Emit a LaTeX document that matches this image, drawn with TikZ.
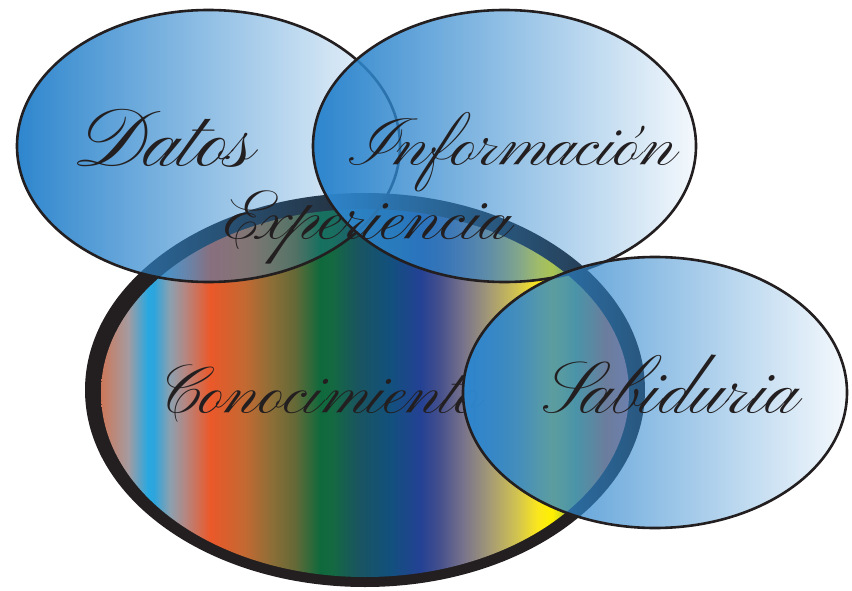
\documentclass[tikz,border=0pt]{standalone}
\usepackage[T1]{fontenc}
\usepackage{fontspec}
\usepackage{graphicx}
\usetikzlibrary{fadings}
\newcommand\pzcscr{\fontencoding{T1}\fontfamily{pzc}\fontseries{mb}\fontshape{it}\selectfont}
\IfFontExistsTF{PinyonScript-Regular.otf}{\newfontfamily\scr{PinyonScript-Regular.otf}}{%
 \IfFontExistsTF{PinyonScript.otf}{\newfontfamily\scr{PinyonScript.otf}}{%
  \IfFontExistsTF{PinyonScript-Regular.ttf}{\newfontfamily\scr{PinyonScript-Regular.ttf}}{%
   \IfFileExists{T1PinyonScript-TLF.fd}{%
     \newcommand\scr{\fontencoding{T1}\fontfamily{PinyonScript-TLF}\selectfont}}{%
     \let\scr\pzcscr}}}}
\definecolor{ink}{RGB}{35,31,32}
\definecolor{bfill}{RGB}{46,134,205}
\definecolor{r00}{RGB}{205,120,90}
\definecolor{r01}{RGB}{165,155,160}
\definecolor{r02}{RGB}{40,168,225}
\definecolor{r03}{RGB}{45,165,220}
\definecolor{r04}{RGB}{140,160,175}
\definecolor{r05}{RGB}{180,135,130}
\definecolor{r06}{RGB}{235,88,42}
\definecolor{r07}{RGB}{195,105,50}
\definecolor{r08}{RGB}{140,110,55}
\definecolor{r09}{RGB}{100,105,55}
\definecolor{r10}{RGB}{15,105,60}
\definecolor{r11}{RGB}{20,105,65}
\definecolor{r12}{RGB}{25,85,95}
\definecolor{r13}{RGB}{18,80,125}
\definecolor{r14}{RGB}{35,65,148}
\definecolor{r15}{RGB}{70,80,140}
\definecolor{r16}{RGB}{120,115,140}
\definecolor{r17}{RGB}{160,150,120}
\definecolor{r18}{RGB}{210,195,80}
\definecolor{r19}{RGB}{250,230,30}
\definecolor{r20}{RGB}{255,240,0}
\definecolor{r21}{RGB}{150,185,75}
\definecolor{r22}{RGB}{220,110,70}
\definecolor{r23}{RGB}{200,120,130}
\pgfdeclarehorizontalshading{rainbow}{100bp}{%
  color(0bp)=(r00); color(25bp)=(r00); color(27.56bp)=(r01); color(29.45bp)=(r02);
  color(30.02bp)=(r03); color(31.53bp)=(r04); color(32.95bp)=(r05); color(35.32bp)=(r06);
  color(38.64bp)=(r07); color(41.19bp)=(r08); color(43.37bp)=(r09); color(45.74bp)=(r10);
  color(46.88bp)=(r11); color(49.24bp)=(r12); color(52.37bp)=(r13); color(55.21bp)=(r14);
  color(57.10bp)=(r15); color(59.28bp)=(r16); color(61.55bp)=(r17); color(64.39bp)=(r18);
  color(66.29bp)=(r19); color(67.71bp)=(r20); color(69.89bp)=(r21); color(72.73bp)=(r22);
  color(75bp)=(r23); color(100bp)=(r23)}
\tikzfading[name=bluefade, left color=transparent!0, middle color=transparent!40, right color=transparent!95]
\tikzset{
  bluell/.style={fill=bfill, path fading=bluefade},
  outl/.style={draw=ink, line width=2.6pt},
  lbl/.style={inner sep=0pt, anchor=base west, text=ink}
}
\begin{document}
\begin{tikzpicture}[x=1pt,y=-1pt]
\useasboundingbox (0,0) rectangle (852,591);
% Conocimiento
\fill[ink] (365,390) ellipse [x radius=280pt, y radius=197pt];
\shade[shading=rainbow] (365,393) ellipse [x radius=264pt, y radius=184pt];
\node[lbl] (conoc) at (157,413) {\resizebox{323pt}{!}{\scr Conocimiento}};
% Datos
\path[bluell] (208.5,146) ellipse [x radius=191.5pt, y radius=136pt];
\draw[outl] (208.5,146) ellipse [x radius=191.5pt, y radius=136pt];
% Informacion
\path[bluell] (504.5,146) ellipse [x radius=191.5pt, y radius=136pt];
\draw[outl] (504.5,146) ellipse [x radius=191.5pt, y radius=136pt];
% Sabiduria
\path[bluell] (655,392.5) ellipse [x radius=192pt, y radius=135.5pt];
\draw[outl] (655,392.5) ellipse [x radius=192pt, y radius=135.5pt];
% labels
\node[lbl] (datos) at (77,167) {\resizebox{176pt}{!}{\scr Datos}};
\node[lbl] (info) at (349,165) {\resizebox{326pt}{!}{\scr Informaci\'{o}n}};
\node[lbl] (exper) at (225,239) {\resizebox{285pt}{!}{\scr Experiencia}};
\node[lbl] (sabid) at (543,413) {\resizebox{255pt}{!}{\scr Sabiduria}};
\end{tikzpicture}
\end{document}
